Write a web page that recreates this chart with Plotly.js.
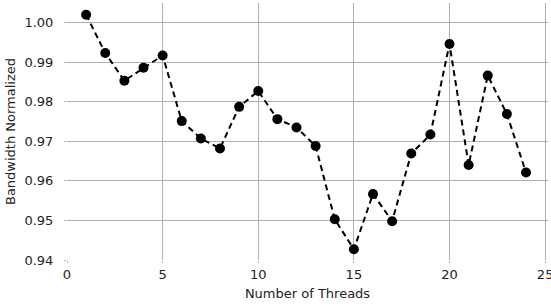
<!DOCTYPE html>
<html>
<head>
<meta charset="utf-8">
<script src="https://cdn.plot.ly/plotly-3.0.1.min.js"></script>
<style>html,body{margin:0;padding:0;background:#fff;overflow:hidden;}#chart{width:551px;height:307px;}</style>
</head>
<body>
<div id="chart"></div>
<script>
const threads = [1,2,3,4,5,6,7,8,9,10,11,12,13,14,15,16,17,18,19,20,21,22,23,24];
const bandwidth = [1.0020,0.9923,0.9853,0.9886,0.9917,0.9751,0.9707,0.9682,0.9787,0.9827,0.9756,0.9735,0.9688,0.9503,0.9427,0.9567,0.9498,0.9669,0.9717,0.9946,0.9640,0.9866,0.9769,0.9621];
const xTicks = [0,5,10,15,20,25];
const yTicks = [0.94,0.95,0.96,0.97,0.98,0.99,1.00];

const trace = {
  x: threads, y: bandwidth, type: 'scatter', mode: 'lines+markers',
  line: {color: '#000', width: 2, dash: '6px,4px'},
  marker: {color: '#000', size: 10},
  cliponaxis: false
};
const font = {family: 'DejaVu Sans', size: 13, color: '#222'};
const layout = {
  width: 551, height: 307,
  margin: {l: 67, r: 2.5, t: 3, b: 47},
  paper_bgcolor: '#fff', plot_bgcolor: '#fff',
  showlegend: false,
  font: font,
  xaxis: {
    range: [0, 25.15], tickvals: xTicks, ticktext: xTicks.map(String),
    showgrid: true, gridcolor: '#b0b0b0', gridwidth: 1, zeroline: false,
    showline: false, ticks: 'outside', ticklen: 2, tickcolor: '#b0b0b0',
    tickfont: font, automargin: false, ticklabeloverflow: 'allow',
    title: {text: 'Number of Threads', font: font, standoff: 8}
  },
  yaxis: {
    range: [0.94, 1.00495], tickvals: yTicks, ticktext: yTicks.map(v => v.toFixed(2)),
    showgrid: true, gridcolor: '#b0b0b0', gridwidth: 1, zeroline: false,
    showline: false, ticks: 'outside', ticklen: 2, tickcolor: '#b0b0b0',
    tickfont: font, automargin: false, ticklabelstandoff: 8,
    title: {text: 'Bandwidth Normalized', font: font, standoff: 5}
  }
};
Plotly.newPlot('chart', [trace], layout, {staticPlot: true, displayModeBar: false});
</script>
</body>
</html>
